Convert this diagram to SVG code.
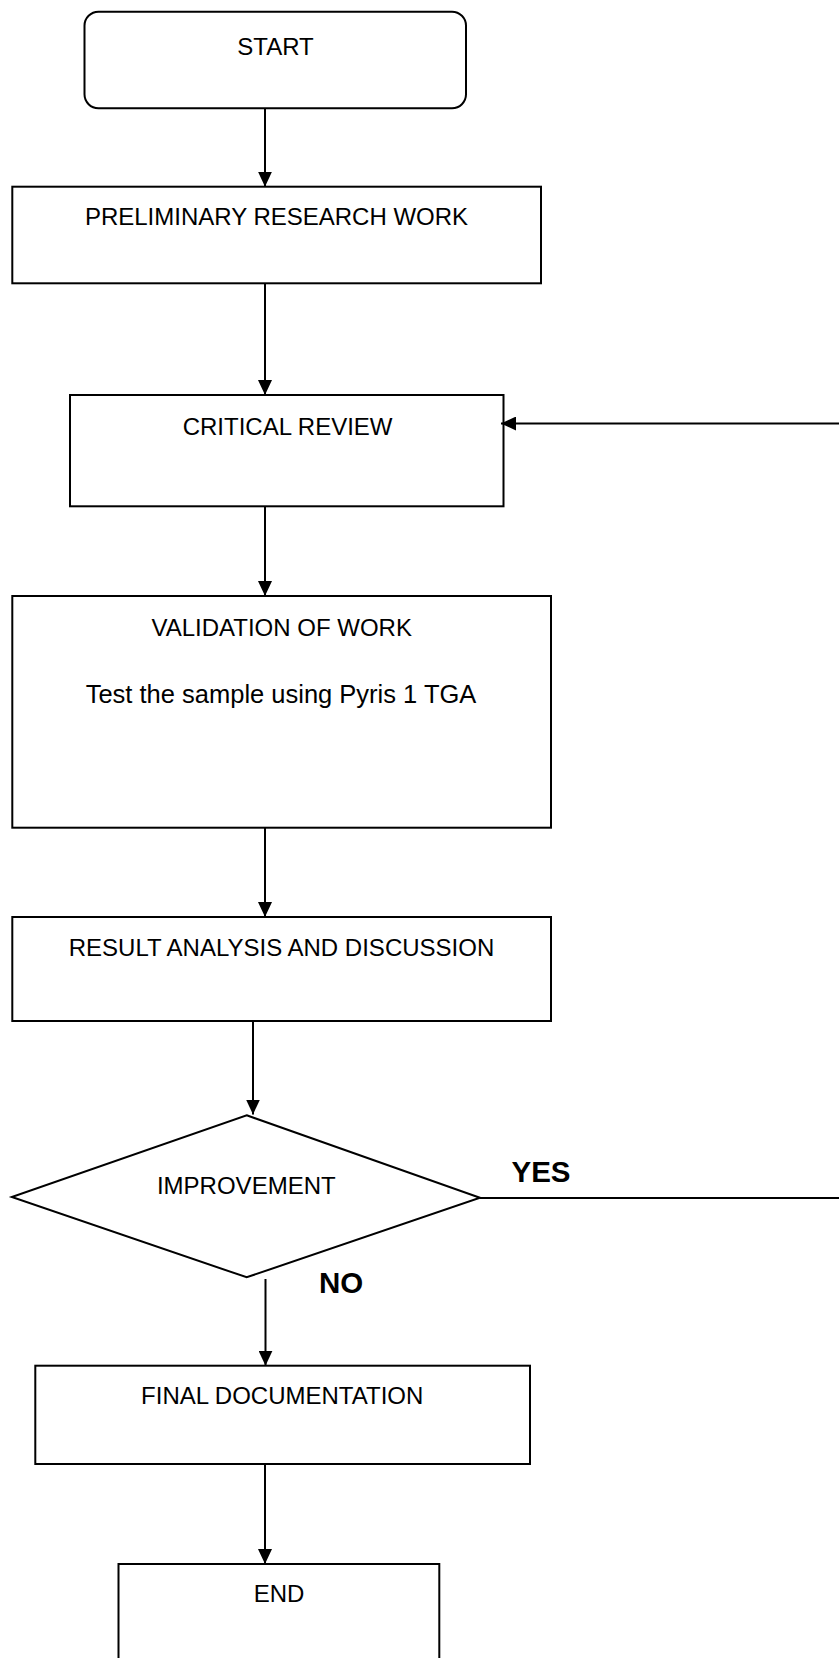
<svg xmlns="http://www.w3.org/2000/svg" width="839" height="1658" viewBox="0 0 839 1658">
<style>
.box{fill:#fff;stroke:#000;stroke-width:2}
.lbl{font-family:"Liberation Sans",Arial,sans-serif;font-size:24px;fill:#000;text-anchor:middle}
.sub{font-size:25.5px}
.yn{font-family:"Liberation Sans",Arial,sans-serif;font-size:29.5px;font-weight:bold;fill:#000;text-anchor:middle}
.conn{stroke:#000;stroke-width:2;fill:none}
</style>
<defs>
<marker id="ah" markerWidth="15" markerHeight="14" refX="15" refY="7" orient="auto" markerUnits="userSpaceOnUse">
<path d="M0,0 L15,7 L0,14 z" fill="#000"/>
</marker>
</defs>
<rect width="839" height="1658" fill="#fff"/>
<g id="start">
<rect class="box" x="84.5" y="11.7" width="381.5" height="96.6" rx="14" ry="14"/>
<text class="lbl" x="275.5" y="55">START</text>
</g>
<g id="preliminary">
<rect class="box" x="12.3" y="186.7" width="528.7" height="96.6"/>
<text class="lbl" x="276.5" y="225.3">PRELIMINARY RESEARCH WORK</text>
</g>
<g id="critical">
<rect class="box" x="70" y="395" width="433.5" height="111.3"/>
<text class="lbl" x="287.6" y="435">CRITICAL REVIEW</text>
</g>
<g id="validation">
<rect class="box" x="12.3" y="596" width="538.7" height="231.7"/>
<text class="lbl" x="281.7" y="635.7">VALIDATION OF WORK</text>
<text class="lbl sub" x="281" y="703.3">Test the sample using Pyris 1 TGA</text>
</g>
<g id="result">
<rect class="box" x="12.3" y="917" width="538.7" height="104"/>
<text class="lbl" x="281.5" y="955.7">RESULT ANALYSIS AND DISCUSSION</text>
</g>
<g id="improvement">
<polygon class="box" points="246.7,1115.3 480,1197.7 246.7,1277.3 11.8,1197" />
<text class="lbl" x="246.3" y="1194">IMPROVEMENT</text>
</g>
<g id="final">
<rect class="box" x="35.3" y="1365.7" width="494.7" height="98.3"/>
<text class="lbl" x="282.2" y="1404.3">FINAL DOCUMENTATION</text>
</g>
<g id="end">
<rect class="box" x="118.5" y="1564" width="320.8" height="120"/>
<text class="lbl" x="279" y="1602.3">END</text>
</g>
<g id="connectors">
<line class="conn" x1="265" y1="108.3" x2="265" y2="186.7" marker-end="url(#ah)"/>
<line class="conn" x1="265" y1="283.3" x2="265" y2="395" marker-end="url(#ah)"/>
<line class="conn" x1="265" y1="506.3" x2="265" y2="596" marker-end="url(#ah)"/>
<line class="conn" x1="265" y1="827.7" x2="265" y2="917" marker-end="url(#ah)"/>
<line class="conn" x1="253" y1="1021" x2="253" y2="1114.5" marker-end="url(#ah)"/>
<line class="conn" x1="265.5" y1="1279" x2="265.5" y2="1365.7" marker-end="url(#ah)"/>
<line class="conn" x1="265" y1="1464" x2="265" y2="1564" marker-end="url(#ah)"/>
<line class="conn" x1="480" y1="1198" x2="839" y2="1198"/>
<line class="conn" x1="839" y1="423.5" x2="501" y2="423.5" marker-end="url(#ah)"/>
<text class="yn" x="541" y="1181.7">YES</text>
<text class="yn" x="341" y="1293">NO</text>
</g>
</svg>
